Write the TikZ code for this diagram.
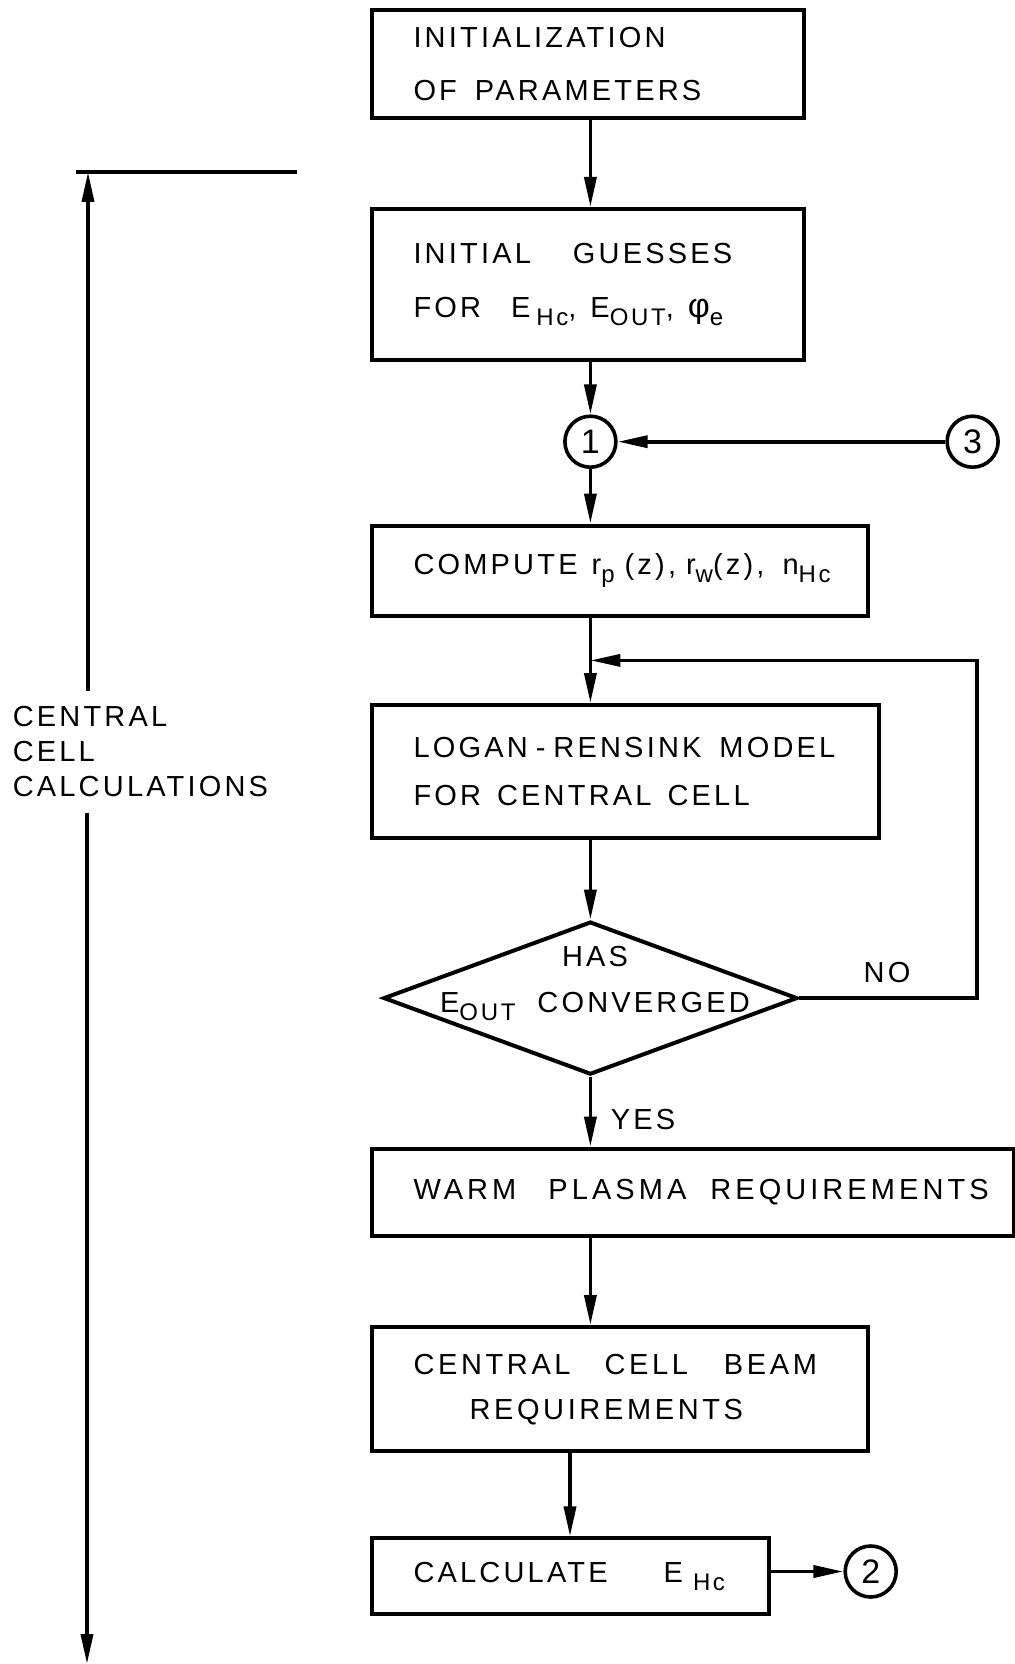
\documentclass[tikz,border=0pt]{standalone}
\usepackage{fontspec}
\setmainfont{Liberation Sans}[LetterSpace=11]
\usetikzlibrary{shapes.geometric,arrows.meta}
\newcommand{\lowsub}[1]{\raisebox{-4pt}{\fontsize{12}{12}\selectfont#1}}
\newcommand{\wg}[1][12]{\hspace{#1pt}}

\begin{document}
\begin{tikzpicture}[x=0.5pt,y=-0.5pt,line width=1.8pt,
  every node/.style={font=\fontsize{14.5}{24}\selectfont},
  blk/.style={draw,line width=2pt,anchor=north west,align=left,inner xsep=21pt,inner ysep=0pt},
  conn/.style={draw,circle,minimum size=25.5pt,inner sep=0pt,font=\fontsize{17}{17}\selectfont},
  arr/.style={-{Triangle[length=15pt,width=6pt]}}]
\useasboundingbox (0,0) rectangle (1014,1664);
% boxes (north west corners, sheet px)
\node[blk,minimum width=216pt,minimum height=54pt,text width=174pt] (init) at (369.5,8.5) {INITIALIZATION\\[2.5pt]OF\wg[9]PARAMETERS};
\node[blk,minimum width=216pt,minimum height=75.5pt,text width=174pt] (guess) at (369.5,207) {INITIAL\wg[21]GUESSES\\[3pt]\mbox{FOR\wg[15]E\lowsub{\hspace{3pt}Hc},\hspace{7pt}E\lowsub{OUT},\hspace{7pt}{\fontsize{17}{17}\selectfont φ}\lowsub{e}}};
\node[blk,minimum width=248pt,minimum height=45pt,text width=206pt] (comp) at (369.5,523.5) {\mbox{COMPUTE\wg[7]r\lowsub{p}\wg[5](z),\wg[5]r\lowsub{w}(z),\wg[9]n\lowsub{Hc}}};
\node[blk,minimum width=253.75pt,minimum height=66.3pt,text width=211.75pt] (logan) at (369.5,703) {LOGAN\hspace{4pt}-\hspace{4pt}RENSINK\wg[9]MODEL\\FOR\wg[8]CENTRAL\wg[8]CELL};
\node[blk,minimum width=321pt,minimum height=43.5pt,text width=279pt] (warm) at (369.5,1146.7) {\addfontfeature{LetterSpace=14}\mbox{WARM\wg[16]PLASMA\wg[12]REQUIREMENTS}};
\node[blk,minimum width=248pt,minimum height=62.2pt,text width=206pt] (beam) at (369.5,1325) {\addfontfeature{LetterSpace=12.5}CENTRAL\wg[17]CELL\wg[18]BEAM\\[-1.5pt]\hspace*{28pt}REQUIREMENTS};
\node[blk,minimum width=198.5pt,minimum height=37.7pt,text width=156.5pt] (calc) at (369.5,1536.4) {\mbox{CALCULATE\wg[28]E\lowsub{\hspace{5pt}Hc}}};
% test
\node[draw,diamond,line width=2pt,minimum width=207pt,minimum height=76.5pt,inner sep=0pt] (conv) at (590.4,998.1) {};
\node[align=center,font=\fontsize{14.5}{23}\selectfont] (convtxt) at (595,983) {HAS\\E\lowsub{OUT}\wg[11]CONVERGED};
% connectors 1,2,3
\node[conn] (c1) at (590.4,441.7) {1};
\node[conn] (c3) at (972.6,441.7) {3};
\node[conn] (c2) at (870.7,1571.5) {2};
\node (no) at (887,972.6) {NO};
\node (yes) at (643,1120) {YES};
\coordinate (merge) at (590.4,660.4);
\coordinate (loopc) at (977,660.4);
\draw[arr] (init.south -| c1) -- (guess.north -| c1);
\draw[arr] (guess.south -| c1) -- (c1);
\draw[arr] (c3) -- (c1);
\draw[arr] (c1) -- (comp.north -| c1);
\draw[arr] (comp.south -| c1) -- (logan.north -| c1);
\draw[arr] (conv.east) -| (loopc) -- (merge);
\draw[arr] (logan.south -| c1) -- (conv);
\draw[arr] (conv) -- (warm.north -| c1);
\draw[arr] (warm.south -| c1) -- (beam.north -| c1);
\draw[arr] (beam.south -| calc) -- (calc);
\draw[arr] (calc.east |- c2) -- (c2);
% range of the central cell part
\coordinate (tickl) at (76,172);
\coordinate (tickr) at (297,172);
\coordinate (dimtop) at (88,172);
\coordinate (dimbot) at (87,1664);
\node[anchor=west,align=left,inner xsep=0pt,inner ysep=7pt,font=\fontsize{14.5}{17.5}\selectfont] (cclab) at (11,751.7) {CENTRAL\\CELL\\CALCULATIONS};
\draw (tickl) -- (tickr);
\draw[arr] (cclab.north -| dimtop) -- (dimtop);
\draw[arr] (cclab.south -| dimbot) -- (dimbot);
\end{tikzpicture}
\end{document}
